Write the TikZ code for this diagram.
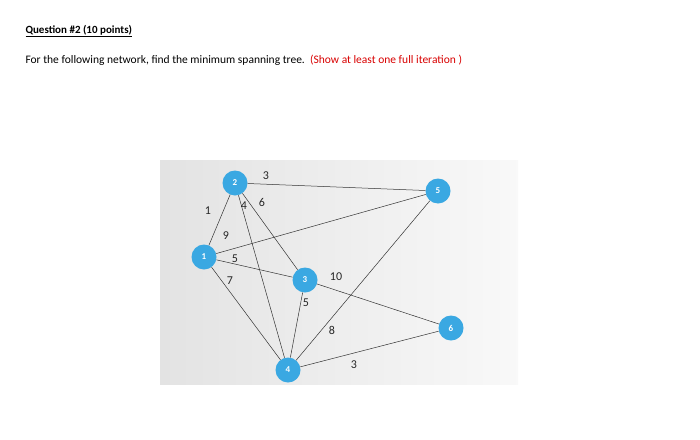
\documentclass[tikz,border=0pt]{standalone}
\usepackage{fontspec}
\setmainfont{Carlito}
\definecolor{nodeblue}{HTML}{3AA8E2}
\begin{document}
\begin{tikzpicture}[x=1pt,y=-1pt,
  vert/.style={circle,fill=nodeblue,minimum size=25pt,inner sep=0pt,text=white,font=\fontsize{9}{10}\selectfont\bfseries},
  edge/.style={draw=black!80,line width=0.5pt},
  wt/.style={font=\fontsize{12}{13}\selectfont,text=black!85}]
\useasboundingbox (0,0) rectangle (700,439);
\fill[white] (0,0) rectangle (700,439);
\shade[left color=gray!22,right color=gray!5] (160,160) rectangle (518,384);
\node[anchor=west,font=\fontsize{11}{13}\selectfont\bfseries] (q) at (22,31) {\underline{Question \#2 (10 points)}};
\node[anchor=west,font=\fontsize{11.5}{13}\selectfont] (t) at (22,60) {For the following network, find the minimum spanning tree.\ \ \textcolor{red!85!black}{(Show at least one full iteration )}};
\node[vert] (n1) at (204,257) {1};
\node[vert] (n2) at (235,183) {2};
\node[vert] (n3) at (305,280) {3};
\node[vert] (n4) at (288,370) {4};
\node[vert] (n5) at (438,191) {5};
\node[vert] (n6) at (451,328) {6};
\draw[edge] (n1)--(n2); \draw[edge] (n2)--(n5); \draw[edge] (n2)--(n3);
\draw[edge] (n2)--(n4); \draw[edge] (n1)--(n5); \draw[edge] (n1)--(n3);
\draw[edge] (n1)--(n4); \draw[edge] (n3)--(n4); \draw[edge] (n3)--(n6);
\draw[edge] (n5)--(n4); \draw[edge] (n4)--(n6);
\node[wt] (w1) at (208,211) {1};
\node[wt] (w2) at (266,176) {3};
\node[wt] (w3) at (244,206) {4};
\node[wt] (w4) at (262,202) {6};
\node[wt] (w5) at (226,236) {9};
\node[wt] (w6) at (235,259) {5};
\node[wt] (w7) at (230,281) {7};
\node[wt] (w8) at (306,303) {5};
\node[wt] (w9) at (336,277) {10};
\node[wt] (w10) at (332,330) {8};
\node[wt] (w11) at (354,365) {3};
\end{tikzpicture}
\end{document}
